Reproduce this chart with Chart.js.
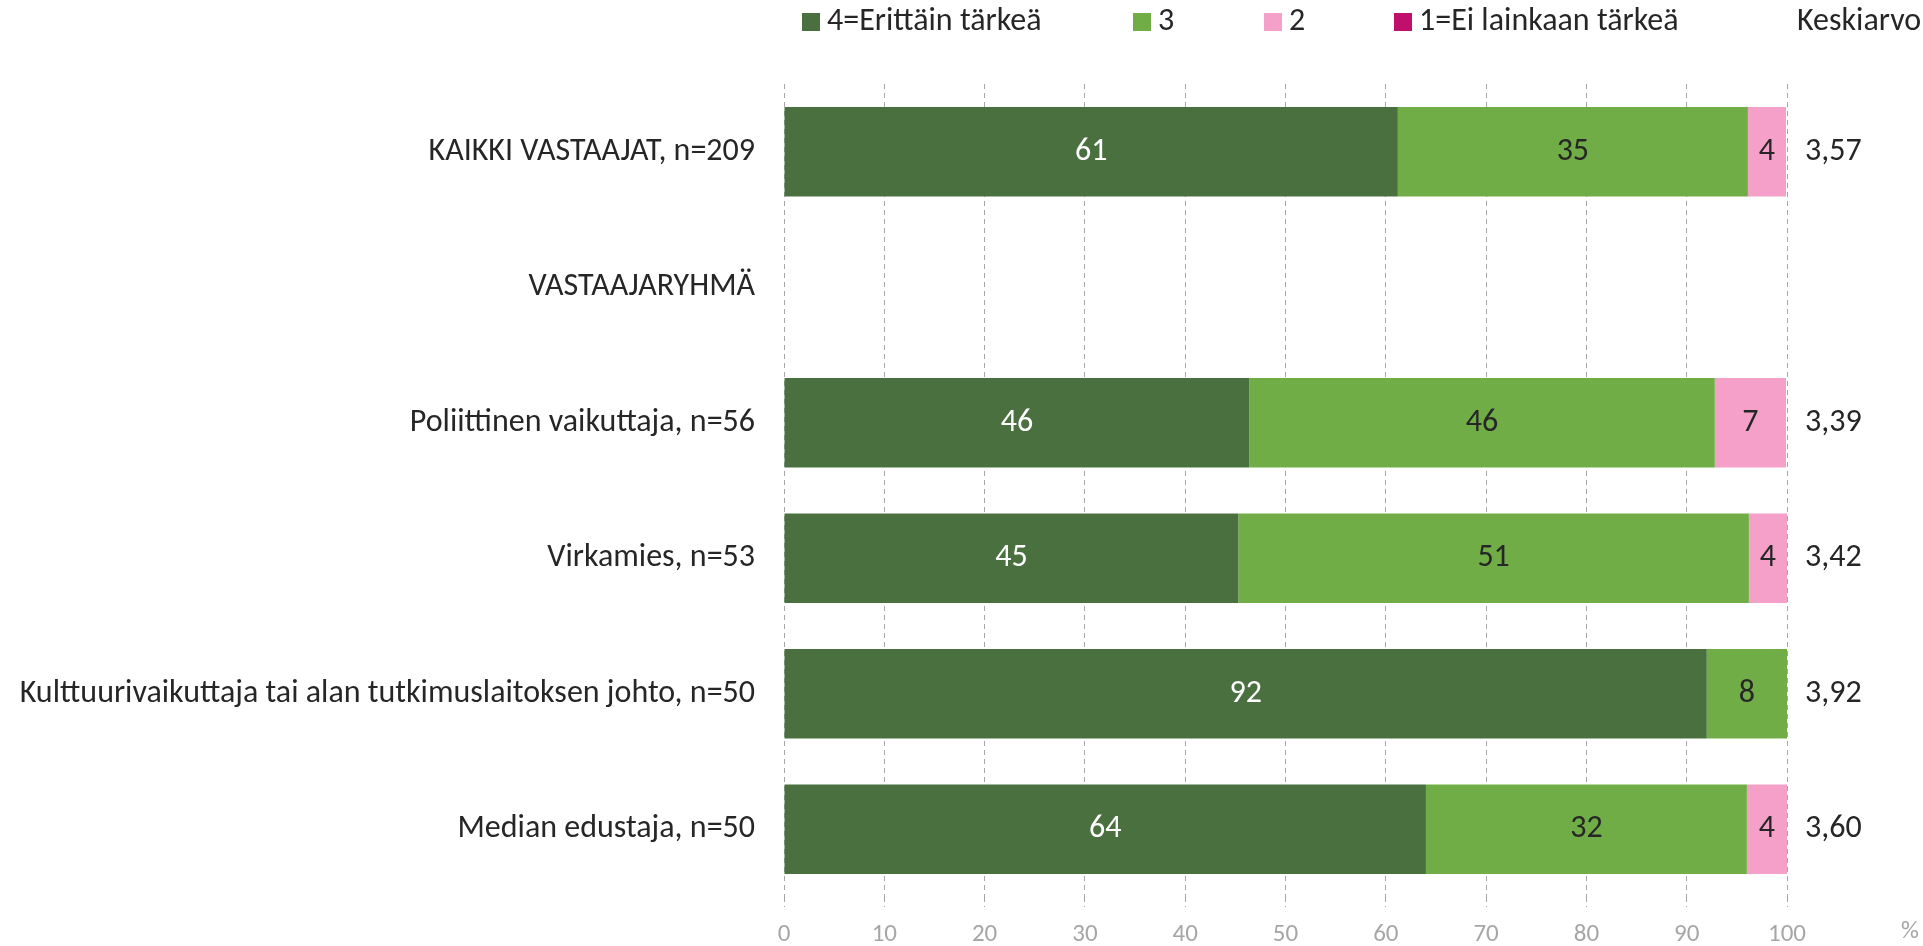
<!DOCTYPE html>
<html lang="fi">
<head>
<meta charset="utf-8">
<script src="https://cdn.jsdelivr.net/npm/chart.js@4/dist/chart.umd.min.js"></script>
<style>
    body { margin: 0; background: #fff; }
    #wrap { width: 1923px; height: 946px; }
</style>
</head>
<body>
<div id="wrap"><canvas id="chart" width="1923" height="946"></canvas></div>
<script>
// Data (percent shares)
const categories = [
    'KAIKKI VASTAAJAT, n=209',
    'VASTAAJARYHMÄ',
    'Poliittinen vaikuttaja, n=56',
    'Virkamies, n=53',
    'Kulttuurivaikuttaja tai alan tutkimuslaitoksen johto, n=50',
    'Median edustaja, n=50'
];
const seriesNames = ['4=Erittäin tärkeä', '3', '2', '1=Ei lainkaan tärkeä'];
const seriesColors = ['#4A7040', '#70AD47', '#F4A0C8', '#C0106B'];
const veryImportant = [61.2, null, 46.4, 45.3, 92.0, 64.0];
const important = [34.9, null, 46.4, 50.9, 8.0, 32.0];
const lessImportant = [3.8, null, 7.1, 3.8, 0, 4.0];
const notImportant = [0, null, 0, 0, 0, 0];
const means = ['3,57', '', '3,39', '3,42', '3,92', '3,60'];
const meanHeader = 'Keskiarvo';
const unitLabel = '%';

const FONT = 'Carlito, Calibri, Lato, sans-serif';
const TEXT = '#262626';
const TEXT_SIZE = 32;

// Value labels inside the bar segments
const barLabels = {
    id: 'barLabels',
    afterDatasetsDraw(chart) {
        const c = chart.ctx;
        c.save();
        c.font = TEXT_SIZE + 'px ' + FONT;
        c.textAlign = 'center';
        c.textBaseline = 'middle';
        chart.data.datasets.forEach((ds, i) => {
            const meta = chart.getDatasetMeta(i);
            meta.data.forEach((bar, j) => {
                const v = ds.data[j];
                if (!v) return;
                const p = bar.getCenterPoint();
                c.fillStyle = i === 0 ? '#ffffff' : TEXT;
                c.fillText(Math.round(v), p.x, p.y);
            });
        });
        c.restore();
    }
};

// Mean column, legend row and unit label
const extras = {
    id: 'extras',
    afterDraw(chart) {
        const c = chart.ctx;
        const area = chart.chartArea;
        const yScale = chart.scales.y;
        c.save();
        c.font = TEXT_SIZE + 'px ' + FONT;
        c.fillStyle = TEXT;
        c.textBaseline = 'middle';
        c.textAlign = 'left';
        means.forEach((m, i) => {
            if (m) c.fillText(m, area.right + 18, yScale.getPixelForValue(i));
        });

        // legend
        const legendX = [802, 1133, 1264, 1394];
        const legendY = 22;
        seriesNames.forEach((name, i) => {
            c.fillStyle = seriesColors[i];
            c.fillRect(legendX[i], legendY - 9, 18, 18);
            c.fillStyle = TEXT;
            c.fillText(name, legendX[i] + 25, legendY);
        });
        c.fillText(meanHeader, 1797, legendY);

        c.fillStyle = '#A6A6A6';
        c.font = '25px ' + FONT;
        c.fillText(unitLabel, 1901, 932);
        c.restore();
    }
};

const ctx = document.getElementById('chart').getContext('2d');
const chart = new Chart(ctx, {
    type: 'bar',
    data: {
        labels: categories,
        datasets: [
            { label: seriesNames[0], data: veryImportant, backgroundColor: seriesColors[0] },
            { label: seriesNames[1], data: important, backgroundColor: seriesColors[1] },
            { label: seriesNames[2], data: lessImportant, backgroundColor: seriesColors[2] },
            { label: seriesNames[3], data: notImportant, backgroundColor: seriesColors[3] }
        ]
    },
    plugins: [barLabels, extras],
    options: {
        indexAxis: 'y',
        responsive: false,
        animation: false,
        layout: { padding: { top: 84, right: 136, left: 12, bottom: 0 } },
        datasets: {
            bar: { categoryPercentage: 1, barPercentage: 0.66 }
        },
        scales: {
            x: {
                stacked: true,
                min: 0,
                max: 100,
                ticks: {
                    stepSize: 10,
                    color: '#A6A6A6',
                    font: { family: FONT, size: 25 },
                    padding: 13
                },
                grid: {
                    color: '#A6A6A6',
                    lineWidth: 1,
                    tickLength: 10,
                    tickColor: '#A6A6A6',
                    tickBorderDash: [5, 4]
                },
                border: { display: false, dash: [5, 4] },
                afterFit(scale) { scale.height = 49; }
            },
            y: {
                stacked: true,
                ticks: {
                    color: TEXT,
                    font: { family: FONT, size: TEXT_SIZE },
                    padding: 21
                },
                grid: { display: false },
                border: { display: false },
                afterFit(scale) { scale.width = 772; }
            }
        },
        plugins: {
            legend: { display: false },
            tooltip: { enabled: false }
        }
    }
});
</script>
</body>
</html>
